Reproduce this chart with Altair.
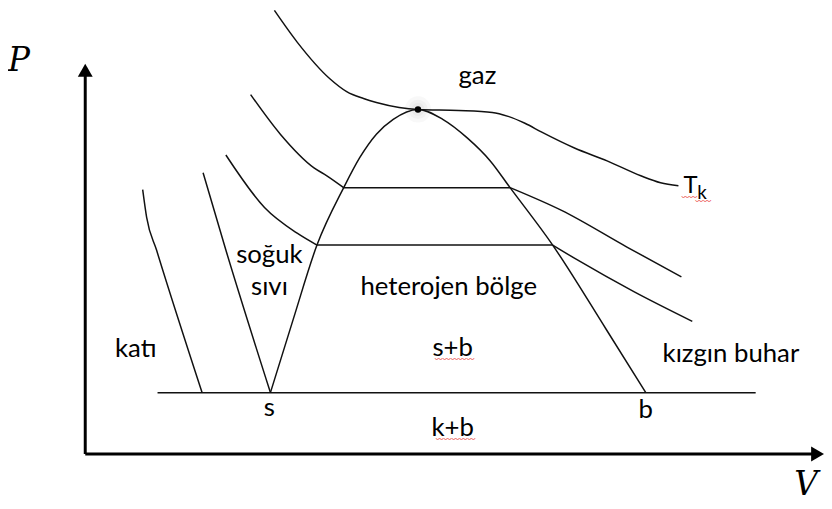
import altair as alt
import pandas as pd

# ---------------- values (V, P arbitrary units) ----------------
# saturation dome: s (left) -> critical point -> b (right)
dome_V = [187, 210, 234, 261, 277, 294, 311, 336, 361, 386, 409, 429, 472, 526, 566]
dome_P = [62, 136, 211, 269, 299, 323, 338, 348, 338, 319, 296, 269, 211, 126, 62]

# critical isotherm T_k
tk_V = [191, 214, 247, 264, 281, 294, 317, 336, 377, 411, 427, 444, 461, 494, 527, 561, 581, 599]
tk_P = [448, 416, 379, 366, 359, 355, 350, 348, 347, 345, 341, 334, 325, 309, 296, 281, 274, 271]

# second isotherm (liquid branch / vapour branch)
iso2L_V = [167, 197, 231, 244, 261]
iso2L_P = [363, 323, 289, 281, 269]
iso2R_V = [429, 481, 547, 602]
iso2R_P = [269, 246, 209, 179]

# third isotherm
iso3L_V = [142, 181, 214, 234]
iso3L_P = [302, 249, 223, 211]
iso3R_V = [472, 497, 554, 613]
iso3R_P = [211, 196, 164, 134]

# solid/liquid boundaries
solidA_V = [58, 62, 72, 118]
solidA_P = [267, 239, 206, 62]
solidB_V = [119, 142, 187]
solidB_P = [284, 206, 62]

# straight segments: tie lines and triple line (V start, V end, P)
seg_V1 = [261, 234, 73]
seg_V2 = [429, 472, 677]
seg_P = [269, 211, 62]

# axes (V1, V2, P1, P2)
axis_V1 = [0, 0]
axis_V2 = [0, 740]
axis_P1 = [0, 0]
axis_P2 = [387, 0]
arrow_V = [0, 739.5]
arrow_P = [387.5, 0]
arrow_shape = ["triangle-up", "triangle-right"]

# critical point
cp_V = [336]
cp_P = [348]

# region labels (centered, baseline)
lab_text = ["gaz", "soğuk", "sıvı", "heterojen bölge", "katı", "s+b",
            "kızgın buhar", "s", "b", "k+b"]
lab_V = [396, 186, 186, 367, 51, 371, 652, 186, 566, 371]
lab_P = [374, 193, 161, 161, 98, 99, 93, 38, 36, 18]

# wavy underlines (spell-check marks)
wave_text = ["〰〰〰〰〰", "〰〰〰〰〰", "〰〰", "〰〰"]
wave_V = [373, 374, 610, 624]
wave_P = [95, 14, 259, 255]

# ---------------------------------------------------------------------------------------
def cdf(name, V, P):
    return pd.DataFrame({"curve": name, "V": V, "P": P, "o": list(range(len(V)))})

curves = pd.concat([
    cdf("dome", dome_V, dome_P),
    cdf("tk", tk_V, tk_P),
    cdf("iso2L", iso2L_V, iso2L_P),
    cdf("iso2R", iso2R_V, iso2R_P),
    cdf("iso3L", iso3L_V, iso3L_P),
    cdf("iso3R", iso3R_V, iso3R_P),
    cdf("solidA", solidA_V, solidA_P),
    cdf("solidB", solidB_V, solidB_P),
], ignore_index=True)

xs = alt.Scale(domain=[-78, 746], nice=False, zero=False)
ys = alt.Scale(domain=[-45, 448], nice=False, zero=False)
X = lambda f: alt.X(f, type="quantitative", scale=xs, axis=None)
Y = lambda f: alt.Y(f, type="quantitative", scale=ys, axis=None)

INK = "#111111"

glow = alt.Chart(pd.DataFrame({"V": cp_V * 3, "P": cp_P * 3, "s": [700, 380, 180]})).mark_point(
    filled=True, color="#888888", opacity=0.06, strokeWidth=0
).encode(x=X("V"), y=Y("P"), size=alt.Size("s:Q", scale=None))

lines = alt.Chart(curves).mark_line(interpolate="monotone", stroke=INK, strokeWidth=1.5).encode(
    x=X("V"), y=Y("P"), detail="curve:N", order="o:Q"
)

segs = alt.Chart(pd.DataFrame({"V1": seg_V1, "V2": seg_V2, "P": seg_P})).mark_rule(
    stroke=INK, strokeWidth=1.5
).encode(x=X("V1"), x2="V2:Q", y=Y("P"))

axes = alt.Chart(pd.DataFrame({"V1": axis_V1, "V2": axis_V2, "P1": axis_P1, "P2": axis_P2})).mark_rule(
    stroke="#000000", strokeWidth=3
).encode(x=X("V1"), x2="V2:Q", y=Y("P1"), y2="P2:Q")

arrows = alt.Chart(pd.DataFrame({"V": arrow_V, "P": arrow_P, "sh": arrow_shape})).mark_point(
    filled=True, color="#000000", opacity=1, size=225, strokeWidth=0
).encode(x=X("V"), y=Y("P"), shape=alt.Shape("sh:N", scale=None))

cp = alt.Chart(pd.DataFrame({"V": cp_V, "P": cp_P})).mark_point(
    filled=True, color="#000000", opacity=1, size=42
).encode(x=X("V"), y=Y("P"))

labels = alt.Chart(pd.DataFrame({"t": lab_text, "V": lab_V, "P": lab_P})).mark_text(
    font="Lato", fontSize=26, align="center", baseline="alphabetic", color="#000000"
).encode(x=X("V"), y=Y("P"), text="t:N")

tk_T = alt.Chart(pd.DataFrame({"t": ["T"], "V": [604], "P": [264]})).mark_text(
    font="Lato", fontSize=24, align="left", baseline="alphabetic", color="#000000"
).encode(x=X("V"), y=Y("P"), text="t:N")
tk_k = alt.Chart(pd.DataFrame({"t": ["k"], "V": [618], "P": [258]})).mark_text(
    font="Lato", fontSize=19, align="left", baseline="alphabetic", color="#000000"
).encode(x=X("V"), y=Y("P"), text="t:N")

waves = alt.Chart(pd.DataFrame({"t": wave_text, "V": wave_V, "P": wave_P})).mark_text(
    font="Noto Sans CJK SC", fontSize=8, align="center", baseline="middle", color="#e8322f"
).encode(x=X("V"), y=Y("P"), text="t:N")

axis_titles = alt.Chart(pd.DataFrame({"t": ["P", "V"], "V": [-78, 716], "P": [387, -41]})).mark_text(
    font="DejaVu Serif", fontSize=33, fontStyle="italic", align="left", baseline="alphabetic",
    color="#000000"
).encode(x=X("V"), y=Y("P"), text="t:N")

chart = alt.layer(
    glow, lines, segs, axes, arrows, cp, labels, tk_T, tk_k, waves, axis_titles
).properties(
    width=824, height=493, autosize=alt.AutoSizeParams(type="none"), padding=0, background="white"
).configure_view(stroke=None)

chart.save("out.html", embed_options={"renderer": "svg", "actions": False})
